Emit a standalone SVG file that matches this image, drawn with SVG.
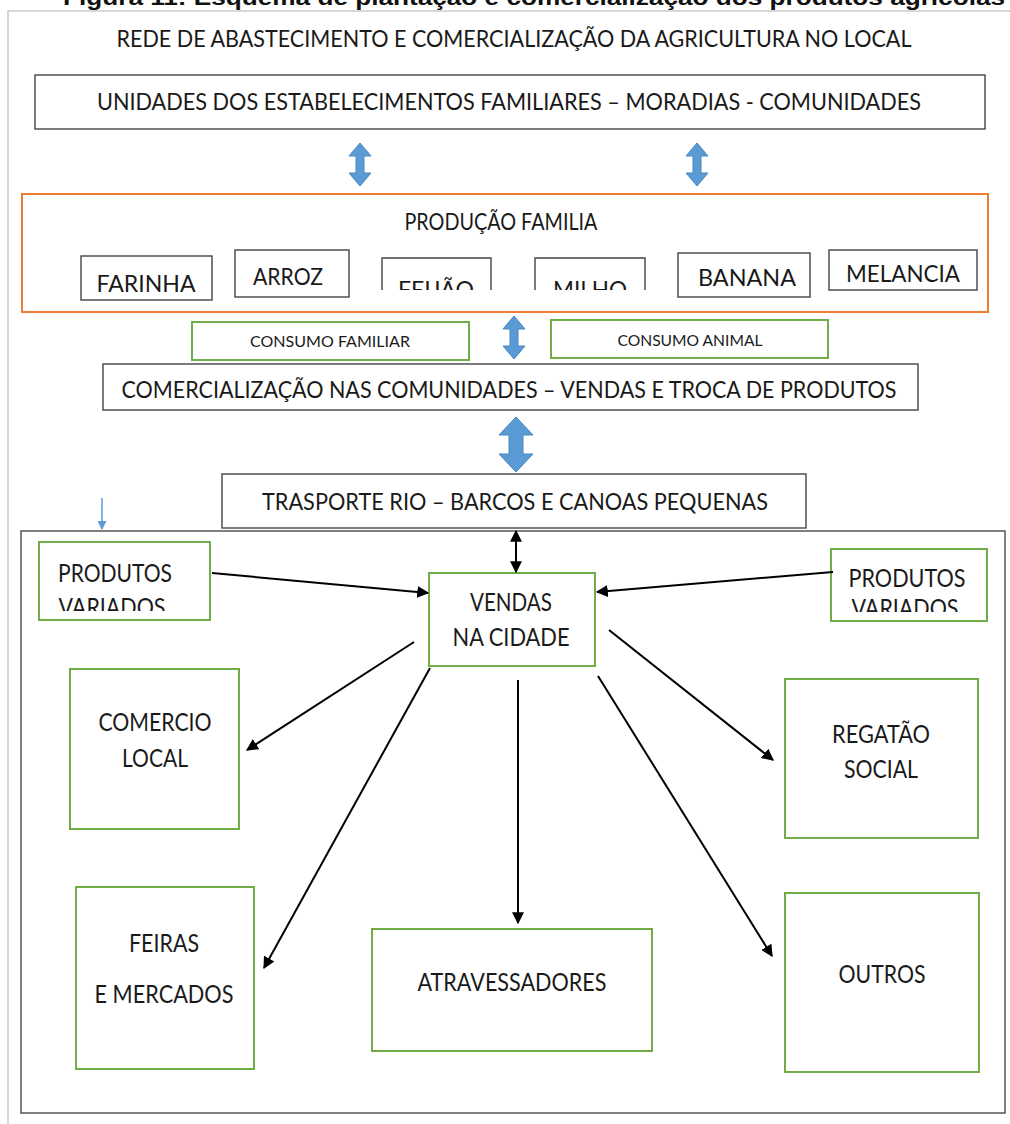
<svg xmlns="http://www.w3.org/2000/svg" width="1010" height="1124" viewBox="0 0 1010 1124">
<style>
text{font-family:Lato,"Liberation Sans",sans-serif;fill:#1a1a1a;text-anchor:middle}
.hd{font-family:"Liberation Sans",Arial,sans-serif;font-weight:bold;fill:#111;text-anchor:start;font-size:22px}
.big{font-size:24px}
.sm{font-size:15px}
.md{font-size:25px}
.bk{fill:#fff;stroke:#444;stroke-width:1.4}
.gr{fill:#fff;stroke:#70AD47;stroke-width:2}
.or{fill:none;stroke:#ED7D31;stroke-width:2}
.blk{fill:#5B9BD5;stroke:#4A86BE;stroke-width:1}
.con{stroke:#000;stroke-width:2;fill:none}
</style>
<defs>
<marker id="ah" viewBox="0 0 10 10" refX="9" refY="5" markerWidth="6" markerHeight="6" orient="auto-start-reverse" markerUnits="strokeWidth"><path d="M0,0 L10,5 L0,10 Z" fill="#000"/></marker>
<marker id="bh" viewBox="0 0 10 10" refX="9" refY="5" markerWidth="6" markerHeight="6" orient="auto" markerUnits="strokeWidth"><path d="M0,0 L10,5 L0,10 Z" fill="#5B9BD5"/></marker>
<clipPath id="cFei"><rect x="380" y="250" width="115" height="40"/></clipPath>
<clipPath id="cMil"><rect x="530" y="250" width="120" height="40"/></clipPath>
<clipPath id="cPvL"><rect x="38" y="540" width="172" height="71"/></clipPath>
<clipPath id="cPvR"><rect x="831" y="548" width="157" height="64"/></clipPath>
</defs>
<rect width="1010" height="1124" fill="#fff"/>
<path d="M8,1124 V11 H1010" fill="none" stroke="#ccc" stroke-width="1.5"/>
<text class="hd" x="63" y="5" textLength="942" lengthAdjust="spacingAndGlyphs">Figura 11: Esquema de plantação e comercialização dos produtos agrícolas</text>
<g id="title"><text class="big" x="514" y="47" textLength="795" lengthAdjust="spacingAndGlyphs">REDE DE ABASTECIMENTO E COMERCIALIZAÇÃO DA AGRICULTURA NO LOCAL</text></g>
<g id="unidades"><rect class="bk" x="35" y="75" width="950" height="54"/><text class="big" x="509" y="110" textLength="824" lengthAdjust="spacingAndGlyphs">UNIDADES DOS ESTABELECIMENTOS FAMILIARES – MORADIAS - COMUNIDADES</text></g>
<g id="producao"><rect class="or" x="22" y="194" width="966" height="118"/><text class="big" x="501" y="230" textLength="193" lengthAdjust="spacingAndGlyphs">PRODUÇÃO FAMILIA</text></g>
<g id="farinha"><rect class="bk" x="81" y="256" width="131" height="44"/><text class="big" x="146" y="292" textLength="99" lengthAdjust="spacingAndGlyphs">FARINHA</text></g>
<g id="arroz"><rect class="bk" x="235" y="250" width="114" height="47"/><text class="big" x="288" y="285" textLength="70" lengthAdjust="spacingAndGlyphs">ARROZ</text></g>
<g id="feijao"><path class="bk" d="M382,290 V258 H491 V290" fill="none"/><text class="big" x="436" y="298" textLength="76" lengthAdjust="spacingAndGlyphs" clip-path="url(#cFei)">FEIJÃO</text></g>
<g id="milho"><path class="bk" d="M535,290 V258 H645 V290" fill="none"/><text class="big" x="590" y="298" textLength="74" lengthAdjust="spacingAndGlyphs" clip-path="url(#cMil)">MILHO</text></g>
<g id="banana"><rect class="bk" x="678" y="253" width="132" height="44"/><text class="big" x="747" y="286" textLength="98" lengthAdjust="spacingAndGlyphs">BANANA</text></g>
<g id="melancia"><rect class="bk" x="829" y="250" width="148" height="40"/><text class="big" x="903" y="282" textLength="114" lengthAdjust="spacingAndGlyphs">MELANCIA</text></g>
<g id="consumo-familiar"><rect class="gr" x="192" y="322" width="277" height="38"/><text class="sm" x="330" y="347" textLength="160" lengthAdjust="spacingAndGlyphs">CONSUMO FAMILIAR</text></g>
<g id="consumo-animal"><rect class="gr" x="551" y="320" width="277" height="38"/><text class="sm" x="690" y="346" textLength="145" lengthAdjust="spacingAndGlyphs">CONSUMO ANIMAL</text></g>
<g id="comercializacao"><rect class="bk" x="103" y="364" width="815" height="46"/><text class="big" x="509" y="398" textLength="775" lengthAdjust="spacingAndGlyphs">COMERCIALIZAÇÃO NAS COMUNIDADES – VENDAS E TROCA DE PRODUTOS</text></g>
<g id="transporte"><rect class="bk" x="222" y="474" width="584" height="54"/><text class="big" x="515" y="510" textLength="506" lengthAdjust="spacingAndGlyphs">TRASPORTE RIO – BARCOS E CANOAS PEQUENAS</text></g>
<g id="cidade-frame"><rect x="21" y="531" width="984" height="582" fill="none" stroke="#555" stroke-width="1.5"/></g>
<g id="produtos-esq"><rect class="gr" x="39" y="542" width="171" height="78"/><g clip-path="url(#cPvL)"><text class="md" x="115" y="582" textLength="114" lengthAdjust="spacingAndGlyphs">PRODUTOS</text><text class="md" x="112" y="616" textLength="107" lengthAdjust="spacingAndGlyphs">VARIADOS</text></g></g>
<g id="produtos-dir"><rect class="gr" x="831" y="549" width="156" height="72"/><g clip-path="url(#cPvR)"><text class="md" x="907" y="587" textLength="117" lengthAdjust="spacingAndGlyphs">PRODUTOS</text><text class="md" x="905" y="617" textLength="107" lengthAdjust="spacingAndGlyphs">VARIADOS</text></g></g>
<g id="vendas"><rect class="gr" x="429" y="573" width="166" height="93"/><text class="md" x="511" y="611" textLength="82" lengthAdjust="spacingAndGlyphs">VENDAS</text><text class="md" x="511" y="646" textLength="117" lengthAdjust="spacingAndGlyphs">NA CIDADE</text></g>
<g id="comercio"><rect class="gr" x="70" y="669" width="169" height="160"/><text class="md" x="155" y="731" textLength="113" lengthAdjust="spacingAndGlyphs">COMERCIO</text><text class="md" x="155" y="767" textLength="66" lengthAdjust="spacingAndGlyphs">LOCAL</text></g>
<g id="regatao"><rect class="gr" x="785" y="679" width="193" height="159"/><text class="md" x="881" y="743" textLength="98" lengthAdjust="spacingAndGlyphs">REGATÃO</text><text class="md" x="881" y="778" textLength="74" lengthAdjust="spacingAndGlyphs">SOCIAL</text></g>
<g id="feiras"><rect class="gr" x="76" y="887" width="178" height="182"/><text class="md" x="164" y="952" textLength="70" lengthAdjust="spacingAndGlyphs">FEIRAS</text><text class="md" x="164" y="1003" textLength="139" lengthAdjust="spacingAndGlyphs">E MERCADOS</text></g>
<g id="atravessadores"><rect class="gr" x="372" y="929" width="280" height="122"/><text class="md" x="512" y="991" textLength="189" lengthAdjust="spacingAndGlyphs">ATRAVESSADORES</text></g>
<g id="outros"><rect class="gr" x="785" y="893" width="194" height="179"/><text class="md" x="882" y="983" textLength="87" lengthAdjust="spacingAndGlyphs">OUTROS</text></g>
<g id="connectors">
<path class="blk" d="M360,143 L371,156 L364,156 L364,173 L371,173 L360,186 L349,173 L356,173 L356,156 L349,156 Z"/>
<path class="blk" d="M697,143 L708,156 L701,156 L701,173 L708,173 L697,186 L686,173 L693,173 L693,156 L686,156 Z"/>
<path class="blk" d="M514,316 L525,329 L518,329 L518,346 L525,346 L514,359 L503,346 L510,346 L510,329 L503,329 Z"/>
<path class="blk" d="M516,417 L533,435 L523,435 L523,454 L533,454 L516,472 L499,454 L509,454 L509,435 L499,435 Z"/>
<line x1="102" y1="498" x2="102" y2="529" stroke="#5B9BD5" stroke-width="1.5" marker-end="url(#bh)"/>
<line class="con" x1="516" y1="531" x2="516" y2="572" marker-start="url(#ah)" marker-end="url(#ah)"/>
<line class="con" x1="212" y1="573" x2="428" y2="593" marker-end="url(#ah)"/>
<line class="con" x1="833" y1="572" x2="597" y2="592" marker-end="url(#ah)"/>
<line class="con" x1="414" y1="642" x2="247" y2="750" marker-end="url(#ah)"/>
<line class="con" x1="609" y1="630" x2="773" y2="760" marker-end="url(#ah)"/>
<line class="con" x1="430" y1="668" x2="264" y2="968" marker-end="url(#ah)"/>
<line class="con" x1="518" y1="680" x2="518" y2="923" marker-end="url(#ah)"/>
<line class="con" x1="598" y1="676" x2="772" y2="956" marker-end="url(#ah)"/>
</g>
</svg>
